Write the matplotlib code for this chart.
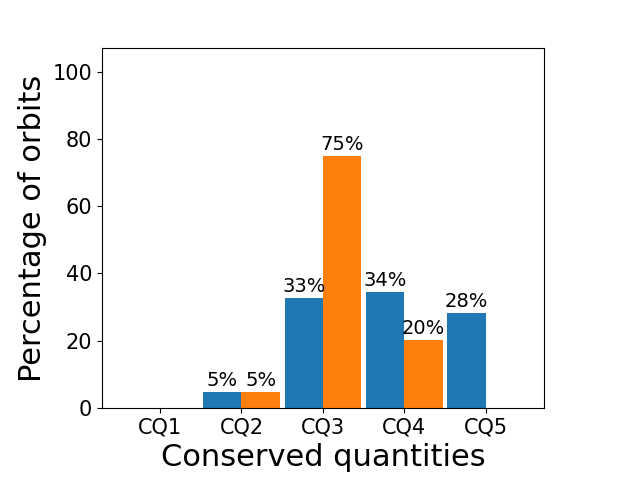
import matplotlib.pyplot as plt
import numpy as np

labels = ['CQ1', 'CQ2', 'CQ3', 'CQ4', 'CQ5']
blue = [0, 4.76, 32.7, 34.5, 28.2]
orange = [0, 4.76, 75.0, 20.2, 0]

x = np.arange(len(labels))
w = 0.47

fig, ax = plt.subplots(figsize=(6.4, 4.8), dpi=100)
fig.subplots_adjust(left=0.159, right=0.85, top=0.9, bottom=0.15)

b1 = ax.bar(x - w/2, blue, w, color='#1f77b4')
b2 = ax.bar(x + w/2, orange, w, color='#ff7f0e')

for bars in (b1, b2):
    for r in bars:
        h = r.get_height()
        if h > 0:
            ax.text(r.get_x() + r.get_width()/2, h + 0.5, '%d%%' % round(h),
                    ha='center', va='bottom', fontsize=14)

ax.set_xticks(x)
ax.set_xticklabels(labels, fontsize=15)
ax.tick_params(axis='y', labelsize=15)
ax.set_ylim(0, 107)
ax.set_xlabel('Conserved quantities', fontsize=22)
ax.set_ylabel('Percentage of orbits', fontsize=22)

plt.savefig('out.png', dpi=100)
